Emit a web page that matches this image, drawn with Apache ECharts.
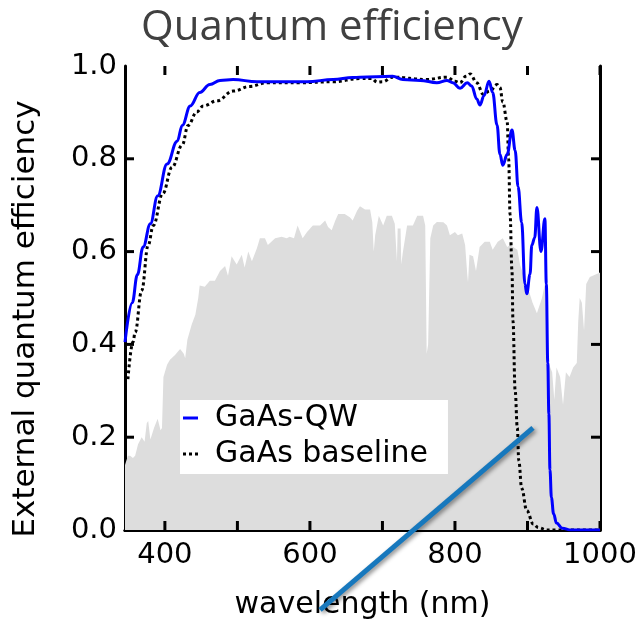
<!DOCTYPE html>
<html>
<head>
<meta charset="utf-8">
<script src="https://cdn.jsdelivr.net/npm/echarts@6/dist/echarts.min.js"></script>
<style>html,body{margin:0;padding:0;background:#fff}#c{width:642px;height:625px}</style>
</head>
<body>
<div id="c"></div>
<script>
// ---- data ----
const xTickValues = [400, 500, 600, 700, 800, 900, 1000];
const xLabelValues = [400, 600, 800, 1000];
const yTickValues = [0.2, 0.4, 0.6, 0.8];
const yLabels = ['0.0', '0.2', '0.4', '0.6', '0.8', '1.0'];

const qwNm = [345,355,362,370,380,390,403,417,424,435,448,462,476,494,527,563,596,632,659,669,714,728,752,775,789,797,807,817,823,830,834.5,840,847,852,858,862,866,872,878.6,883,887,892,896.5,899,903.5,906,910,913,918.6,924,926,928,929.5,931,933,936,940,948,960,1000];
const qwQE = [0.405,0.49,0.55,0.61,0.66,0.72,0.789,0.838,0.872,0.914,0.943,0.96,0.969,0.971,0.966,0.966,0.966,0.971,0.975,0.976,0.978,0.971,0.969,0.964,0.969,0.964,0.952,0.964,0.957,0.929,0.916,0.936,0.967,0.943,0.873,0.81,0.786,0.81,0.862,0.818,0.74,0.663,0.53,0.509,0.551,0.614,0.63,0.695,0.60,0.671,0.53,0.36,0.25,0.13,0.07,0.035,0.015,0.004,0.0,0.0];

const baseNm = [349,356,359,368,377,384,397,410,424,432,444,453,472,494,517,541,586,632,669,685,693,700,714,761,789,800,807,815,821,830,839,848,858,862,866,872,874,876,878.6,880,883,886,888,892,899,908,915,927,1000];
const baseQE = [0.325,0.405,0.426,0.516,0.614,0.656,0.725,0.782,0.83,0.872,0.901,0.914,0.925,0.946,0.956,0.964,0.964,0.966,0.973,0.973,0.965,0.966,0.976,0.971,0.976,0.967,0.964,0.978,0.983,0.964,0.939,0.946,0.96,0.954,0.922,0.88,0.80,0.68,0.56,0.45,0.30,0.22,0.15,0.09,0.042,0.013,0.005,0.0,0.0];

const solarNm = [345,349,352,356,359,363,368,372,375,377,380,385,390,394,396,398,403,407,414,421,426,428,431,437,442,446,448,455,462,469,476,483,487,492,499,506,510,515,520,527,531,538,542,552,561,568,572,578,583,590,596,604,614,621,625,630,635,639,648,655,659,665,669,676,683,686,688,690,695,701,706,713,717,719,720,721,725,726,728,734,742,748,752,756,759,761,763,766,770,775,784,789,793,800,804,810,814,817,818,820,825,829,834,841,848,852,859,866,872,876,886,890,899,907,913,920,924,927,929,934,937,940,945,949,953,958,963,968,970,972,975,978,981,986,993,1000];
const solarVal = [0.14,0.16,0.16,0.155,0.16,0.185,0.20,0.19,0.23,0.235,0.195,0.22,0.24,0.215,0.22,0.33,0.356,0.367,0.377,0.39,0.38,0.37,0.41,0.443,0.464,0.50,0.527,0.524,0.537,0.537,0.558,0.569,0.548,0.59,0.572,0.593,0.566,0.60,0.579,0.608,0.629,0.629,0.614,0.629,0.632,0.629,0.632,0.629,0.656,0.629,0.642,0.656,0.656,0.667,0.653,0.646,0.667,0.681,0.681,0.674,0.667,0.688,0.698,0.691,0.691,0.663,0.60,0.635,0.677,0.656,0.677,0.677,0.66,0.66,0.579,0.65,0.65,0.572,0.597,0.656,0.656,0.677,0.677,0.677,0.656,0.38,0.40,0.629,0.656,0.664,0.663,0.656,0.635,0.642,0.635,0.639,0.614,0.55,0.534,0.593,0.59,0.558,0.61,0.621,0.621,0.604,0.621,0.629,0.61,0.614,0.604,0.57,0.53,0.49,0.467,0.50,0.53,0.52,0.36,0.34,0.28,0.35,0.33,0.27,0.34,0.33,0.35,0.36,0.45,0.50,0.49,0.43,0.53,0.545,0.55,0.555];

// annotation stroke (in data units)
const pointerNm = [614, 907.6];
const pointerVal = [-0.172, 0.22];

const X_MIN = 345, X_MAX = 1000, Y_MIN = 0, Y_MAX = 1;
const zip = (a, b) => a.map((v, i) => [v, b[i]]);

const FONT = 'DejaVu Sans';
const TICK_LEN = 9;
const tickStyle = {stroke: '#000', lineWidth: 3};
const chart = echarts.init(document.getElementById('c'), null, {renderer: 'canvas'});

const axisCommon = {
  min: X_MIN, max: X_MAX, type: 'value',
  axisLine: {show: true, lineStyle: {color: '#000', width: 3}},
  axisTick: {show: false},
  splitLine: {show: false},
};

function xTickItem(params, api) {
  const v = api.value(0);
  const b = api.coord([v, Y_MIN]);
  const t = api.coord([v, Y_MAX]);
  return {type: 'group', children: [
    {type: 'line', shape: {x1: b[0], y1: b[1], x2: b[0], y2: b[1] - TICK_LEN}, style: tickStyle},
    {type: 'line', shape: {x1: t[0], y1: t[1], x2: t[0], y2: t[1] + TICK_LEN}, style: tickStyle}
  ]};
}
function yTickItem(params, api) {
  const v = api.value(1);
  const l = api.coord([X_MIN, v]);
  const r = api.coord([X_MAX, v]);
  return {type: 'group', children: [
    {type: 'line', shape: {x1: l[0], y1: l[1], x2: l[0] + TICK_LEN, y2: l[1]}, style: tickStyle},
    {type: 'line', shape: {x1: r[0], y1: r[1], x2: r[0] - TICK_LEN, y2: r[1]}, style: tickStyle}
  ]};
}

chart.setOption({
  animation: false,
  backgroundColor: '#fff',
  title: {
    text: 'Quantum efficiency', left: 141, top: 0,
    textStyle: {fontFamily: 'Open Sans', fontSize: 42, fontWeight: 'normal', color: '#404040'},
    padding: [7, 0, 0, 0]
  },
  grid: {left: 125, right: 42, top: 66, bottom: 82},
  legend: {
    orient: 'vertical', left: 180, top: 400, z: 10,
    backgroundColor: '#fff',
    padding: [2, 20, 4, 3],
    itemGap: 4, itemWidth: 15, itemHeight: 3,
    data: [
      {name: 'GaAs-QW', icon: 'rect'},
      {name: 'GaAs baseline', icon: 'path://M0,0h3v3h-3z M6,0h3v3h-3z M12,0h3v3h-3z'}
    ],
    textStyle: {fontFamily: FONT, fontSize: 30, color: '#000', lineHeight: 32, padding: [0, 0, 0, 12]}
  },
  xAxis: [
    Object.assign({}, axisCommon, {
      position: 'bottom',
      name: 'wavelength (nm)', nameLocation: 'middle', nameGap: 60,
      nameTextStyle: {fontFamily: FONT, fontSize: 30, color: '#000'},
      axisLabel: {show: true, margin: 11, fontFamily: FONT, fontSize: 29, color: '#000',
        customValues: xLabelValues, formatter: v => String(v)}
    }),
    Object.assign({}, axisCommon, {
      position: 'top',
      axisLabel: {show: false}
    })
  ],
  yAxis: [
    {
      type: 'value', min: Y_MIN, max: Y_MAX, interval: 0.2, position: 'left',
      name: 'External quantum efficiency', nameLocation: 'middle', nameGap: 84,
      nameTextStyle: {fontFamily: FONT, fontSize: 31, color: '#000', padding: [0, 42, 0, 0]},
      axisLine: {show: true, lineStyle: {color: '#000', width: 3}},
      axisTick: {show: false},
      axisLabel: {show: true, margin: 8, fontFamily: FONT, fontSize: 29, color: '#000',
        formatter: v => yLabels[Math.round(v / 0.2)]},
      splitLine: {show: false}
    },
    {
      type: 'value', min: Y_MIN, max: Y_MAX, interval: 0.2, position: 'right',
      axisLine: {show: true, lineStyle: {color: '#000', width: 3}},
      axisTick: {show: false},
      axisLabel: {show: false},
      splitLine: {show: false}
    }
  ],
  series: [
    {
      name: 'solar', type: 'line', data: zip(solarNm, solarVal), symbol: 'none', z: 1,
      lineStyle: {width: 0, color: '#dddddd'}, areaStyle: {color: '#dddddd', opacity: 1}, silent: true
    },
    {
      name: 'xticks', type: 'custom', data: xTickValues.map(v => [v, 0]), renderItem: xTickItem,
      clip: false, silent: true, z: 2
    },
    {
      name: 'yticks', type: 'custom', data: yTickValues.map(v => [X_MIN, v]), renderItem: yTickItem,
      clip: false, silent: true, z: 2
    },
    {
      name: 'GaAs baseline', type: 'line', data: zip(baseNm, baseQE), symbol: 'none', z: 3,
      smooth: 0.4, smoothMonotone: 'x',
      itemStyle: {color: '#000'},
      lineStyle: {color: '#000', width: 3, type: [3, 3], cap: 'butt'}
    },
    {
      name: 'GaAs-QW', type: 'line', data: zip(qwNm, qwQE), symbol: 'none', z: 4,
      smooth: 0.4, smoothMonotone: 'x',
      itemStyle: {color: '#0000ff'},
      lineStyle: {color: '#0000ff', width: 3}
    },
    {
      name: 'pointer', type: 'line', data: zip(pointerNm, pointerVal), symbol: 'none', z: 5,
      clip: false, silent: true,
      lineStyle: {color: '#1778bd', width: 5, shadowColor: 'rgba(0,0,0,0.45)', shadowBlur: 4, shadowOffsetX: 2, shadowOffsetY: 2}
    }
  ]
});
</script>
</body>
</html>
